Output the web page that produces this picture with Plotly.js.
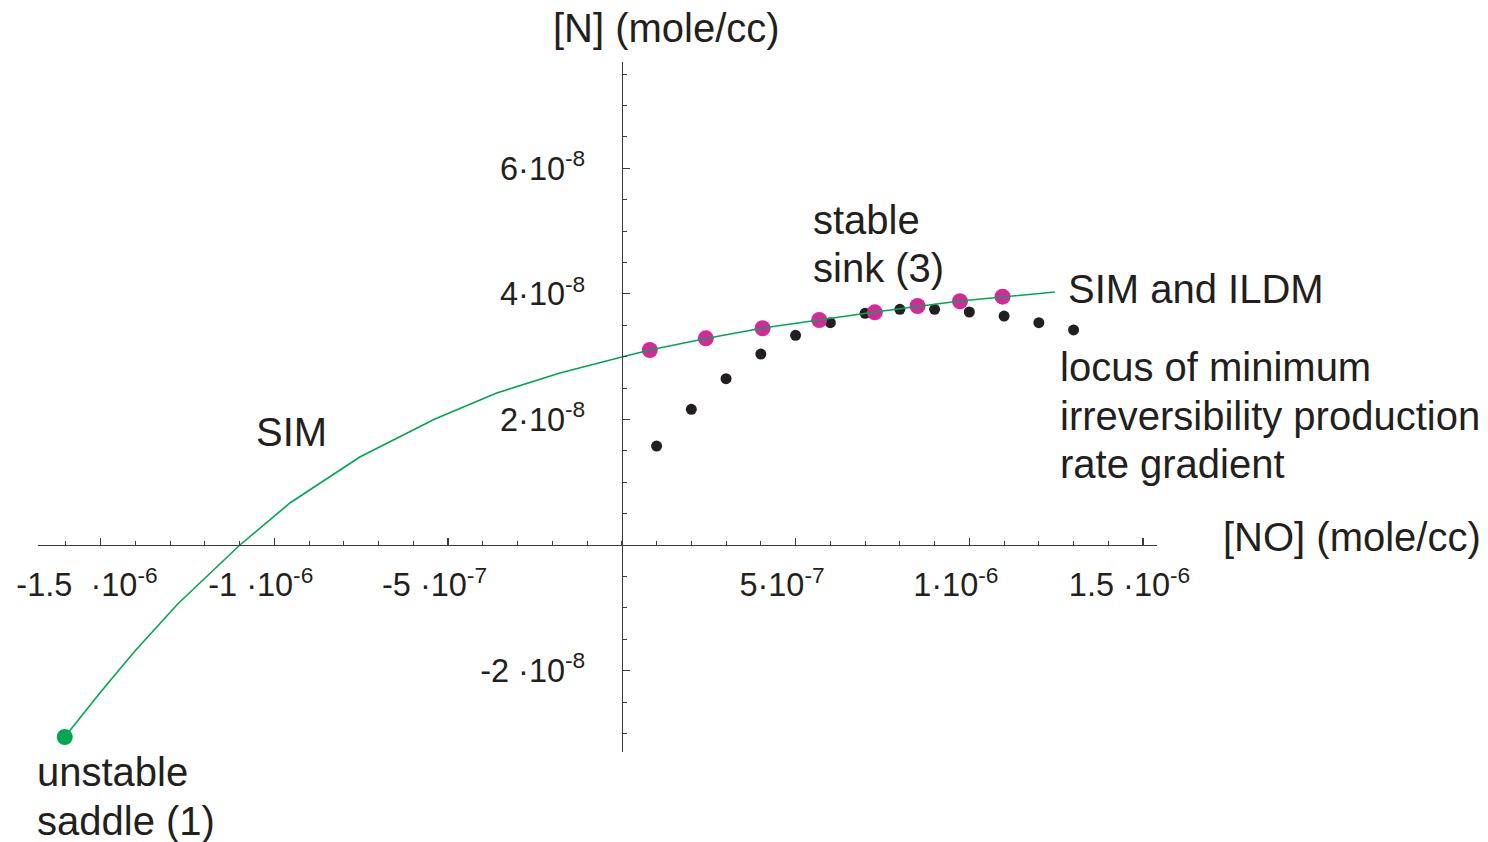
<!DOCTYPE html>
<html><head><meta charset="utf-8">
<script src="https://cdn.plot.ly/plotly-3.0.1.min.js"></script>
<style>html,body{margin:0;padding:0;background:#fff}#chart{width:1488px;height:842px}</style>
</head><body><div id="chart"></div>
<script>
// SIM / ILDM curve
const simX = [-1.603e-6, -1.502e-6, -1.401e-6, -1.278e-6, -1.099e-6, -0.955e-6, -0.754e-6, -0.538e-6, -0.360e-6, -0.178e-6, 0, 0.0806e-6, 0.242e-6, 0.406e-6, 0.567e-6, 0.728e-6, 0.973e-6, 1.246e-6];
const simY = [-3.057e-8, -2.357e-8, -1.688e-8, -0.939e-8, 0, 0.669e-8, 1.401e-8, 2.006e-8, 2.420e-8, 2.739e-8, 2.994e-8, 3.105e-8, 3.288e-8, 3.455e-8, 3.583e-8, 3.710e-8, 3.885e-8, 4.029e-8];
// unstable saddle (1)
const saddleX = [-1.603e-6];
const saddleY = [-3.057e-8];
// ILDM points (magenta)
const ildmX = [0.806e-7, 2.417e-7, 4.05e-7, 5.68e-7, 7.28e-7, 8.51e-7, 9.73e-7, 10.955e-7];
const ildmY = [3.105e-8, 3.291e-8, 3.451e-8, 3.583e-8, 3.705e-8, 3.806e-8, 3.881e-8, 3.954e-8];
// locus of minimum irreversibility production rate gradient (black)
const locusX = [1e-7, 2e-7, 3e-7, 4e-7, 5e-7, 6e-7, 7e-7, 8e-7, 9e-7, 10e-7, 11e-7, 12e-7, 13e-7];
const locusY = [1.576e-8, 2.161e-8, 2.648e-8, 3.041e-8, 3.339e-8, 3.540e-8, 3.689e-8, 3.753e-8, 3.753e-8, 3.710e-8, 3.646e-8, 3.540e-8, 3.424e-8];
// tick labels
const xTickVals = [-1.5e-6, -1e-6, -5e-7, 5e-7, 1e-6, 1.5e-6];
const xTickText = ['-1.5\u00A0\u00A0·10<sup>-6</sup>', '-1 ·10<sup>-6</sup>', '-5 ·10<sup>-7</sup>', '5·10<sup>-7</sup>', '1·10<sup>-6</sup>', '1.5 ·10<sup>-6</sup>'];
const yTickVals = [-2e-8, 2e-8, 4e-8, 6e-8];
const yTickText = ['-2 ·10<sup>-8</sup>', '2·10<sup>-8</sup>', '4·10<sup>-8</sup>', '6·10<sup>-8</sup>'];

const FONT = 'Liberation Sans, Arial, Helvetica, sans-serif';
const INK = '#231f20';
const AX = '#3a3a3a';
const NB = '\u00A0\u00A0\u00A0';

const traces = [
  {x: locusX, y: locusY, mode: 'markers', type: 'scatter', marker: {color: INK, size: 11}, hoverinfo: 'none'},
  {x: ildmX, y: ildmY, mode: 'markers', type: 'scatter', marker: {color: '#d4299a', size: 16}, hoverinfo: 'none'},
  {x: simX, y: simY, mode: 'lines', type: 'scatter', line: {color: '#00a651', width: 1.6}, hoverinfo: 'none'},
  {x: saddleX, y: saddleY, mode: 'markers', type: 'scatter', marker: {color: '#00a651', size: 16}, hoverinfo: 'none'}
];

const L = 38, R = 1157, T = 62, B = 752;
function px(xp) { return (xp - L) / (R - L); }
function py(yp) { return (B - yp) / (B - T); }
function ann(text, xp, yp) {
  return {text: text, xref: 'paper', yref: 'paper', x: px(xp), y: py(yp), xanchor: 'left', yanchor: 'middle',
          showarrow: false, font: {family: FONT, size: 40, color: INK}, align: 'left'};
}

const layout = {
  width: 1488, height: 842,
  margin: {l: L, r: 1488 - R, t: T, b: 842 - B, pad: 0},
  paper_bgcolor: '#fff', plot_bgcolor: '#fff',
  showlegend: false,
  font: {family: FONT, color: INK},
  xaxis: {
    range: [-1.68e-6, 1.54e-6], anchor: 'free', position: 0.3,
    showline: true, linecolor: AX, linewidth: 1.2,
    ticks: 'inside', ticklen: 7, tickwidth: 1.2, tickcolor: AX,
    tickmode: 'array', tickvals: xTickVals, ticktext: xTickText.map(t => t + NB),
    tickfont: {family: FONT, size: 32.5, color: INK}, ticklabelstandoff: 11,
    minor: {tickmode: 'linear', tick0: 0, dtick: 1e-7, ticks: 'inside', ticklen: 4, tickwidth: 1, tickcolor: AX, showgrid: false},
    showgrid: false, zeroline: false, fixedrange: true
  },
  yaxis: {
    range: [-3.296e-8, 7.691e-8], anchor: 'free', position: 0.5217,
    showline: true, linecolor: AX, linewidth: 1.2,
    ticks: 'inside', ticklen: 7, tickwidth: 1.2, tickcolor: AX,
    tickmode: 'array', tickvals: yTickVals, ticktext: yTickText,
    tickfont: {family: FONT, size: 32.5, color: INK}, ticklabelstandoff: 30,
    minor: {tickmode: 'linear', tick0: 0, dtick: 0.5e-8, ticks: 'inside', ticklen: 4, tickwidth: 1, tickcolor: AX, showgrid: false},
    showgrid: false, zeroline: false, fixedrange: true
  },
  annotations: [
    ann('[N] (mole/cc)', 551, 28),
    ann('[NO] (mole/cc)', 1221, 537),
    ann('stable', 811, 220),
    ann('sink (3)', 811, 268),
    ann('SIM and ILDM', 1066, 289),
    ann('locus of minimum', 1058, 367),
    ann('irreversibility production', 1058, 416),
    ann('rate gradient', 1058, 464),
    ann('SIM', 254, 432),
    ann('unstable', 35, 772),
    ann('saddle (1)', 35, 821)
  ]
};

Plotly.newPlot('chart', traces, layout, {staticPlot: true, displayModeBar: false});
</script>
</body></html>
